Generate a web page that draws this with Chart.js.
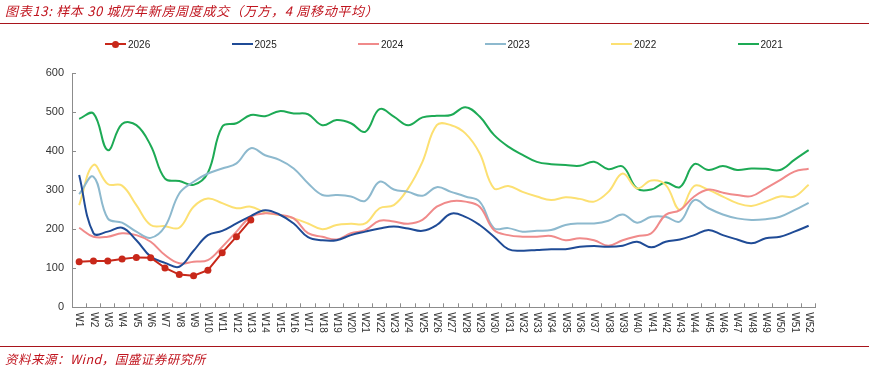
<!DOCTYPE html>
<html>
<head>
<meta charset="utf-8">
<script src="https://cdn.jsdelivr.net/npm/chart.js@4/dist/chart.umd.min.js"></script>
<style>
  html,body{margin:0;padding:0;background:#fff;}
  #wrap{position:relative;width:869px;height:370px;overflow:hidden;}
  #c{position:absolute;left:0;top:0;}
  .title{position:absolute;left:5px;top:1px;font:italic 13px "Noto Sans CJK SC",sans-serif;color:#C0141E;white-space:nowrap;letter-spacing:0.7px;}
  .rule{position:absolute;left:0;width:869px;height:0;border-top:1.5px solid #A8141C;}
  .source{position:absolute;left:5px;top:349px;font:italic 12.5px "Noto Sans CJK SC",sans-serif;color:#C0141E;white-space:nowrap;letter-spacing:0.5px;}
  #legend{position:absolute;left:105px;top:37px;display:flex;}
  .li{width:126.5px;display:flex;align-items:center;height:14px;font:10px "Liberation Sans Narrow","Liberation Sans",Arial,sans-serif;color:#222;}
  .mk{position:relative;width:21px;height:2px;margin-right:2px;}
  .dot{position:absolute;left:7px;top:-2.5px;width:7px;height:7px;border-radius:50%;}
</style>
</head>
<body>
<div id="wrap">
  <canvas id="c" width="869" height="370"></canvas>
  <div class="title">图表13:&nbsp;样本 30 城历年新房周度成交（万方，4 周移动平均）</div>
  <div class="rule" style="top:23px"></div>
  <div id="legend"></div>
  <div class="rule" style="top:346px"></div>
  <div class="source">资料来源：Wind，国盛证券研究所</div>
</div>
<script>
const weeks = ["W1","W2","W3","W4","W5","W6","W7","W8","W9","W10","W11","W12","W13","W14","W15","W16","W17","W18","W19","W20","W21","W22","W23","W24","W25","W26","W27","W28","W29","W30","W31","W32","W33","W34","W35","W36","W37","W38","W39","W40","W41","W42","W43","W44","W45","W46","W47","W48","W49","W50","W51","W52"];
const yTicks = [0,100,200,300,400,500,600];
const seriesNames = ["2026","2025","2024","2023","2022","2021"];

const s2026 = [117,119,119,124,128,127,101,84,81,95,140,181,224];
const s2025 = [339,190,194,204,172,130,114,104,145,185,196,215,234,249,238,215,180,172,172,185,194,202,207,202,196,211,240,232,211,181,149,145,147,149,149,155,157,155,158,168,154,168,174,185,198,185,174,164,177,181,194,209];
const s2024 = [204,181,181,190,185,168,134,113,117,121,155,194,232,241,237,228,190,181,174,190,198,222,220,214,224,258,272,271,258,198,185,181,181,183,172,177,172,158,172,182,190,237,249,284,302,294,288,285,305,326,348,355];
const s2023 = [290,335,228,217,194,178,207,292,322,343,356,369,408,390,378,356,318,288,288,284,273,322,302,296,286,308,296,284,271,203,203,194,196,198,211,215,215,222,238,217,232,232,220,275,254,238,228,224,226,232,249,268];
const s2022 = [262,365,316,312,262,211,208,204,258,279,267,254,258,243,237,228,215,200,211,214,215,254,262,305,373,467,467,446,395,305,311,296,284,275,282,278,271,296,343,305,325,314,250,311,301,284,267,260,271,284,284,314];
const s2021 = [483,497,403,470,467,415,330,324,314,345,463,472,493,490,503,497,495,467,480,472,450,508,489,467,487,491,493,513,489,442,412,391,373,367,365,363,373,354,361,305,302,320,308,367,352,362,352,356,355,352,378,403];

const seriesData = [s2026,s2025,s2024,s2023,s2022,s2021];
const styles = [
  {color:"#C8281A", width:2, point:3.5},
  {color:"#1F4B96", width:2, point:0},
  {color:"#F08A8A", width:2, point:0},
  {color:"#8DB9CE", width:2, point:0},
  {color:"#FCE072", width:2, point:0},
  {color:"#1DAA55", width:2, point:0}
];

// HTML legend
const lg = document.getElementById('legend');
seriesNames.forEach((n,i)=>{
  const it = document.createElement('div'); it.className='li';
  const mk = document.createElement('span'); mk.className='mk'; mk.style.background=styles[i].color;
  if (styles[i].point) { const d=document.createElement('span'); d.className='dot'; d.style.background=styles[i].color; mk.appendChild(d); }
  const tx = document.createElement('span'); tx.textContent = n;
  it.appendChild(mk); it.appendChild(tx); lg.appendChild(it);
});

const xLabelPlugin = {
  id:'xLabels',
  afterDraw(chart){
    const xs = chart.scales.x, ctx = chart.ctx;
    ctx.save();
    ctx.font = '10px "Liberation Sans", Arial, sans-serif';
    ctx.fillStyle = '#333';
    ctx.textAlign = 'left';
    ctx.textBaseline = 'middle';
    weeks.forEach((w,i)=>{
      const x = xs.getPixelForTick(i);
      ctx.save();
      ctx.translate(x, xs.top + 5);
      ctx.rotate(Math.PI/2);
      ctx.fillText(w, 0, 0);
      ctx.restore();
    });
    ctx.restore();
  }
};

new Chart(document.getElementById('c'), {
  type:'line',
  data:{
    labels: weeks,
    datasets: seriesNames.map((n,i)=>({
      label:n,
      data: seriesData[i],
      borderColor: styles[i].color,
      backgroundColor: styles[i].color,
      borderWidth: styles[i].width,
      pointRadius: styles[i].point,
      pointBorderWidth: 0,
      pointHoverRadius: styles[i].point,
      tension: styles[i].point ? 0 : 0.4,
      fill:false,
      spanGaps:false
    }))
  },
  options:{
    responsive:false,
    animation:false,
    events:[],
    layout:{padding:{top:73.3,left:0,right:53.2,bottom:22.7}},
    plugins:{legend:{display:false},tooltip:{enabled:false},title:{display:false}},
    scales:{
      x:{
        type:'category',
        offset:true,
        grid:{display:true,offset:true,drawOnChartArea:false,drawTicks:true,tickLength:-4,color:'#8c8c8c',lineWidth:1},
        border:{display:true,color:'#8c8c8c',width:1},
        ticks:{display:false},
        afterFit(s){ s.height = 40; }
      },
      y:{
        min:0,max:600,
        afterBuildTicks(s){ s.ticks = yTicks.map(v=>({value:v})); },
        grid:{display:true,drawOnChartArea:false,drawTicks:true,tickLength:-4,color:'#8c8c8c',lineWidth:1},
        border:{display:true,color:'#8c8c8c',width:1},
        ticks:{padding:12,color:'#333',font:{family:'"Liberation Sans", Arial, sans-serif',size:11}},
        afterFit(s){ s.width = 72; }
      }
    }
  },
  plugins:[xLabelPlugin]
});
</script>
</body>
</html>
